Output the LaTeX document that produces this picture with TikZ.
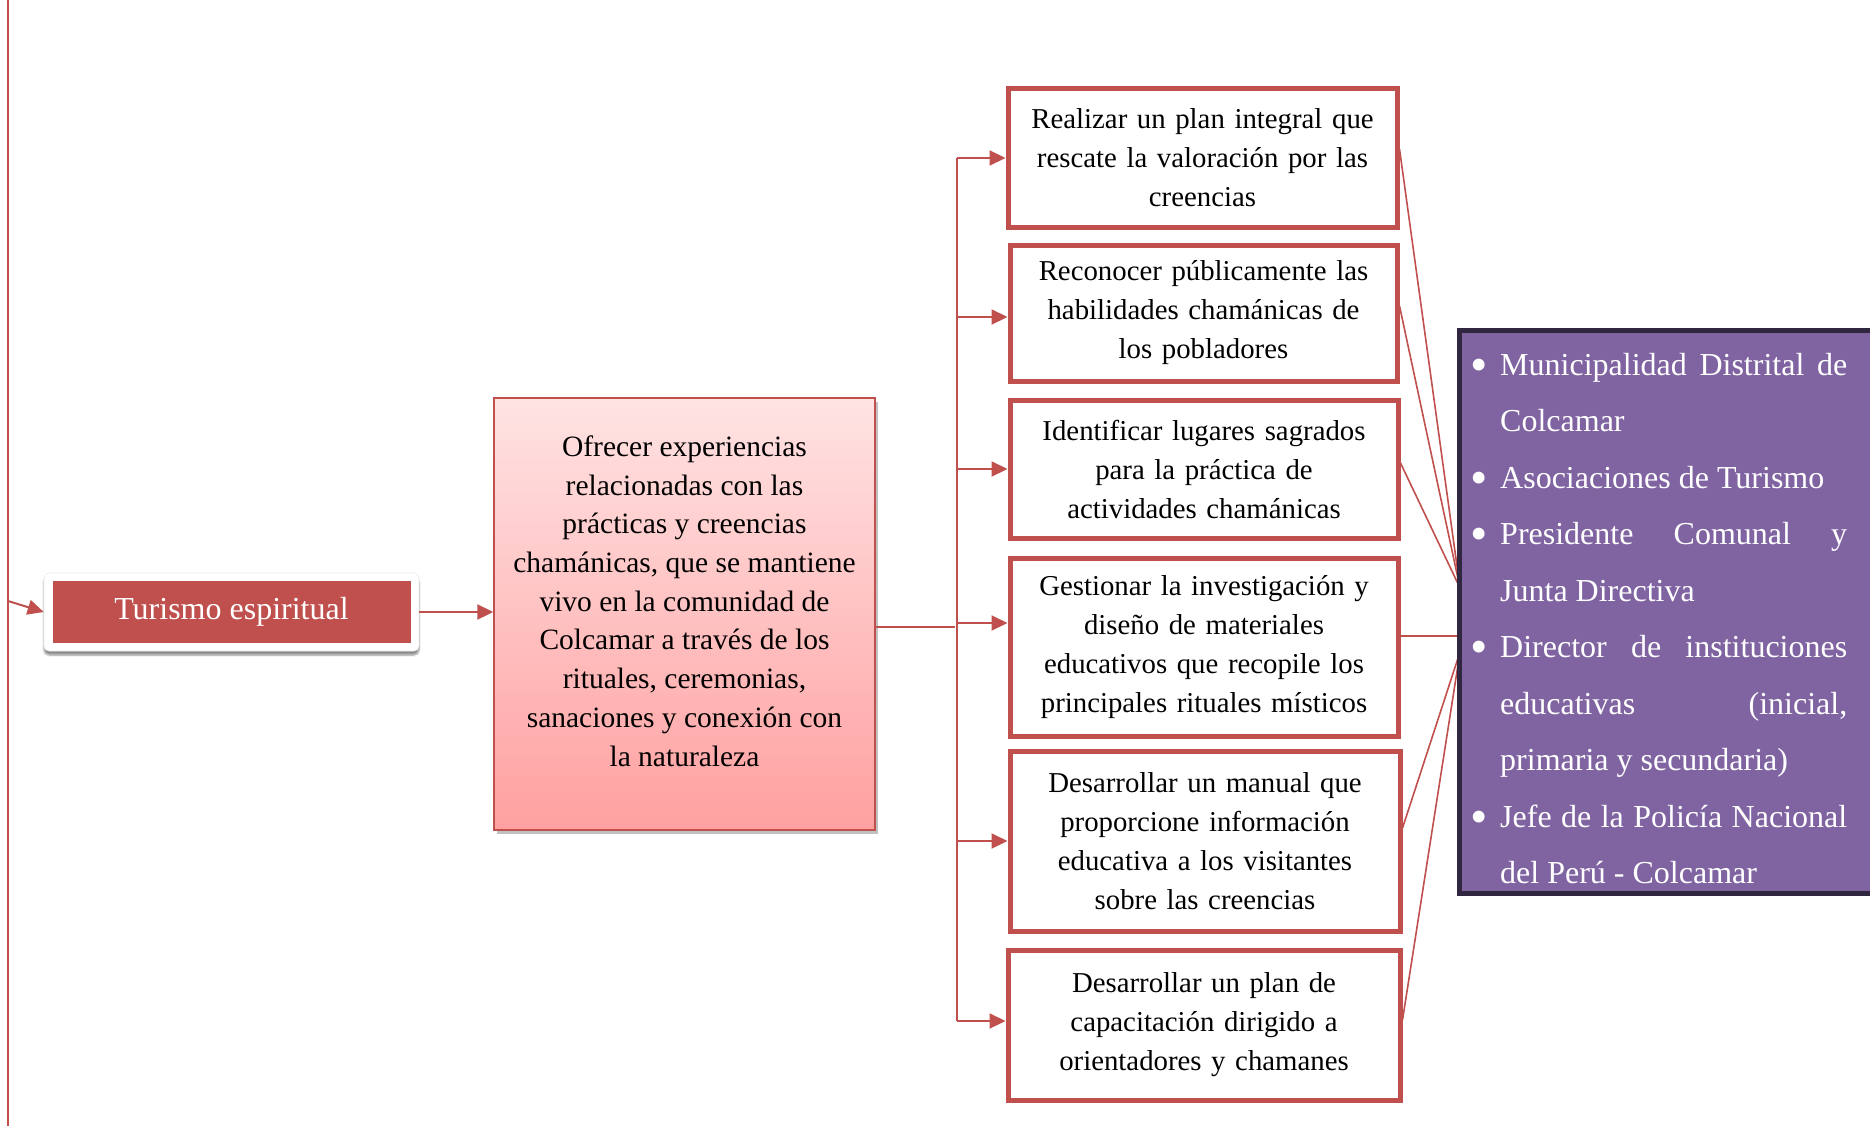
\documentclass[tikz,border=0pt]{standalone}
\usepackage{fontspec}
\setmainfont{Liberation Serif}
\usetikzlibrary{arrows.meta,shadows,shadows.blur,calc}
\definecolor{rd}{HTML}{C0504D}
\definecolor{pu}{HTML}{8064A2}
\definecolor{pudark}{HTML}{30263F}
\definecolor{pinktop}{RGB}{255,227,227}
\definecolor{pinkbot}{RGB}{255,160,160}
\newcommand\purpitem[1]{\par\hangindent=26pt\hangafter=1\noindent\makebox[26pt][l]{\hspace{-3.5pt}\raisebox{-6pt}{\scalebox{1.55}{\textbullet}}}#1\par}
\begin{document}
\begin{tikzpicture}[x=1pt,y=-1pt,
  conn/.style={draw=rd, line width=2pt},
  thin conn/.style={draw=rd, line width=1.6pt},
  arr/.style={conn, -{Triangle[length=16pt,width=15pt]}},
  stepbox/.style={draw=rd, line width=5pt, fill=white, inner sep=0pt,
    text width=372pt, align=center, font=\fontsize{28.8}{39}\selectfont},
]
\useasboundingbox (0,0) rectangle (1870,1126);

% left border line
\coordinate (ltop) at (8,0);
\coordinate (lbot) at (8,1126);
\coordinate (lin) at (8,601);
\draw[conn] (ltop) -- (lbot);

% Turismo espiritual
\node[fill=white, draw=black!8, line width=0.6pt, rounded corners=5pt,
  minimum width=375pt, minimum height=78pt,
  blur shadow={shadow xshift=0pt, shadow yshift=-4pt, shadow blur steps=6, shadow opacity=45}]
  (tbg) at (231.5,612) {};
\node[fill=rd, text=white, minimum width=358pt, minimum height=62pt, inner sep=0pt,
  font=\fontsize{32}{38}\selectfont] (tur) at (231.5,612) {Turismo espiritual};
\draw[arr] (lin) -- (tbg.west);

% Ofrecer box
\node[draw=rd, line width=1.4pt, top color=pinktop, bottom color=pinkbot,
  minimum width=381pt, minimum height=432pt, inner sep=0pt,
  drop shadow={shadow xshift=3pt, shadow yshift=-4pt, opacity=0.35, fill=black!70},
  font=\fontsize{29.5}{38.7}\selectfont]
  (ofr) at (684.5,614) {\parbox{370pt}{\centering
  Ofrecer experiencias\\ relacionadas con las\\ prácticas y creencias\\
  chamánicas, que se mantiene\\ vivo en la comunidad de\\ Colcamar a través de los\\
  rituales, ceremonias,\\ sanaciones y conexión con\\ la naturaleza\par\vspace{26pt}}};
\draw[arr] (tbg.east) -- (tbg.east -| ofr.west);

% action boxes
\node[stepbox, minimum width=389pt, minimum height=138pt] (b1) at (1202.5,158)
  {Realizar un plan integral que\\ rescate la valoración por las\\ creencias};
\node[stepbox, minimum width=387pt, minimum height=136pt] (b2) at (1203.5,313)
  {Reconocer públicamente las\\ habilidades chamánicas de\\ los pobladores};
\node[stepbox, minimum width=388pt, minimum height=138pt] (b3) at (1204,469)
  {Identificar lugares sagrados\\ para la práctica de\\ actividades chamánicas};
\node[stepbox, minimum width=388pt, minimum height=178pt] (b4) at (1204,647)
  {Gestionar la investigación y\\ diseño de materiales\\ educativos que recopile los\\ principales rituales místicos};
\node[stepbox, minimum width=390pt, minimum height=180pt] (b5) at (1205,841)
  {Desarrollar un manual que\\ proporcione información\\ educativa a los visitantes\\ sobre las creencias};
\node[stepbox, minimum width=392pt, minimum height=150pt] (b6) at (1204,1025)
  {Desarrollar un plan de\\ capacitación dirigido a\\ orientadores y chamanes};

% trunk and arrows
\coordinate (trtop) at (957,158);
\coordinate (trbot) at (957,1021);
\coordinate (oj) at (955,627);
\coordinate (b4in) at (957,623);
\draw[conn] (trtop) -- (trbot);
\draw[conn] (ofr.east |- oj) -- (oj);
\draw[arr] (trtop) -- (b1.west);
\draw[arr] ([yshift=-4pt]b2.west -| trtop) -- ([yshift=-4pt]b2.west);
\draw[arr] (b3.west -| trtop) -- (b3.west);
\draw[arr] (b4in) -- (b4in -| b4.west);
\draw[arr] (b5.west -| trtop) -- (b5.west);
\draw[arr] (trbot) -- (trbot -| b6.west);

% lines to purple box
\coordinate (cu) at (1460,588);
\coordinate (cm) at (1460,636);
\coordinate (cl) at (1460,652);
\draw[thin conn] ([yshift=9pt]b1.east) -- (cu);
\draw[thin conn] ([yshift=7pt]b2.east) -- (cu);
\draw[thin conn] ([yshift=6pt]b3.east) -- (cu);
\draw[thin conn] ([yshift=11pt]b4.east) -- (cm);
\draw[thin conn] ([yshift=13pt]b5.east) -- (cl);
\draw[thin conn] ([yshift=5pt]b6.east) -- (cl);

% purple box
\node[draw=pudark, line width=5pt, fill=pu, minimum width=420pt, minimum height=563pt,
  inner sep=0pt] (pur) at (1669.5,611.5) {};
\node[anchor=base west, inner sep=0pt, text=white] (purtext) at (1474,375)
  {\parbox[t]{373pt}{\fontsize{32}{56.5}\selectfont\hyphenpenalty=10000 \parindent=0pt
  \purpitem{Municipalidad Distrital de\linebreak Colcamar}
  \purpitem{Asociaciones de Turismo}
  \purpitem{Presidente Comunal y\linebreak Junta Directiva}
  \purpitem{Director de instituciones\linebreak educativas (inicial,\linebreak primaria y secundaria)}
  \purpitem{Jefe de la Policía Nacional\linebreak del Perú - Colcamar}}};
\end{tikzpicture}
\end{document}
